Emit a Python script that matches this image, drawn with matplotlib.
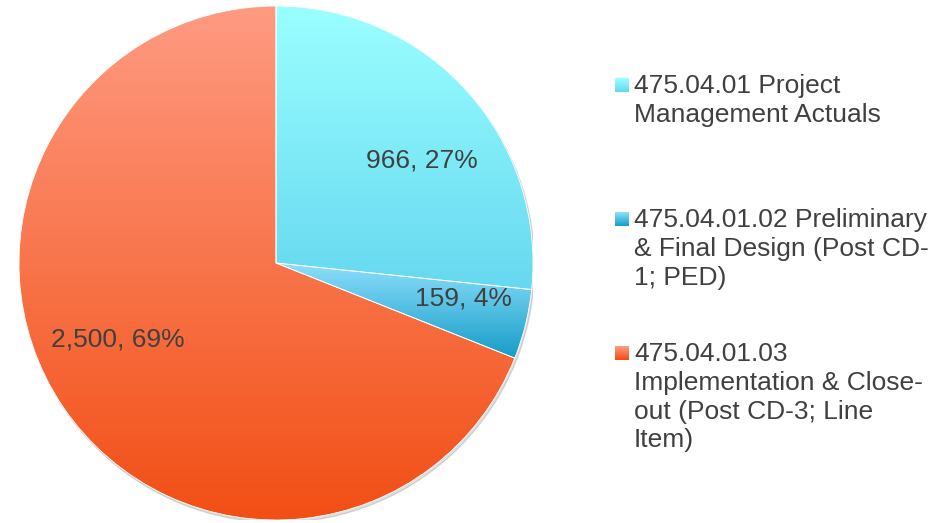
import numpy as np
import matplotlib.pyplot as plt
from matplotlib.colors import LinearSegmentedColormap
from matplotlib.patches import Circle

plt.rcParams['font.family'] = ['Liberation Sans', 'DejaVu Sans']

categories = ["475.04.01 Project\nManagement Actuals",
              "475.04.01.02 Preliminary\n& Final Design (Post CD-\n1; PED)",
              "475.04.01.03\nImplementation & Close-\nout (Post CD-3; Line\nItem)"]
values = [966, 159, 2500]
# gradient top / bottom colours for each slice
grad_top = ["#9BFFFF", "#8EDFFC", "#FF9B82"]
grad_bottom = ["#66D8F0", "#169DC8", "#F24E14"]

text_color = "#404040"

fig = plt.figure(figsize=(9.43, 5.23), dpi=100)
ax = fig.add_axes([19 / 943, 3 / 523, 514 / 943, 514 / 523])

# soft shadow under the pie
ax.add_patch(Circle((0.006, -0.01), 1.0, color="#000000", alpha=0.12, zorder=0))

wedges, _ = ax.pie(values, startangle=90, counterclock=False, radius=1.0,
                   colors=["none"] * 3,
                   wedgeprops=dict(edgecolor="white", linewidth=0.6))

for w, c1, c2 in zip(wedges, grad_top, grad_bottom):
    pts = w.get_patch_transform().transform(w.get_path().vertices)
    x0, x1 = pts[:, 0].min(), pts[:, 0].max()
    y0, y1 = pts[:, 1].min(), pts[:, 1].max()
    cmap = LinearSegmentedColormap.from_list("g", [c2, c1])
    grad = np.linspace(0, 1, 256).reshape(-1, 1)
    im = ax.imshow(grad, cmap=cmap, extent=[x0, x1, y0, y1], origin="lower",
                   aspect="auto", zorder=1, interpolation="bilinear")
    im.set_clip_path(w)
    w.set_zorder(2)

ax.set_xlim(-1.0, 1.0)
ax.set_ylim(-1.0, 1.0)
ax.set_aspect("equal")
ax.axis("off")

# data labels
total = sum(values)
label_pos = [(0.568, 0.397), (0.728, -0.140), (-0.615, -0.296)]
for v, (x, y) in zip(values, label_pos):
    ax.text(x, y, f"{v:,}, {v / total * 100:.0f}%", ha="center", va="center",
            fontsize=19, color=text_color, zorder=5)

# legend drawn by hand so the marker sits on the first line
leg_y = [85, 219, 353]
for cat, c1, c2, y in zip(categories, grad_top, grad_bottom, leg_y):
    max_ax = fig.add_axes([615 / 943, 1 - (y + 7) / 523, 14 / 943, 14 / 523])
    cmap = LinearSegmentedColormap.from_list("g", [c2, c1])
    max_ax.imshow(np.linspace(0, 1, 32).reshape(-1, 1), cmap=cmap, origin="lower",
                  aspect="auto", extent=[0, 1, 0, 1])
    max_ax.axis("off")
    fig.text(634 / 943, 1 - (y - 11) / 523, cat, ha="left", va="top",
             fontsize=19, color=text_color, linespacing=1.25)

fig.savefig("out.png", dpi=100)
